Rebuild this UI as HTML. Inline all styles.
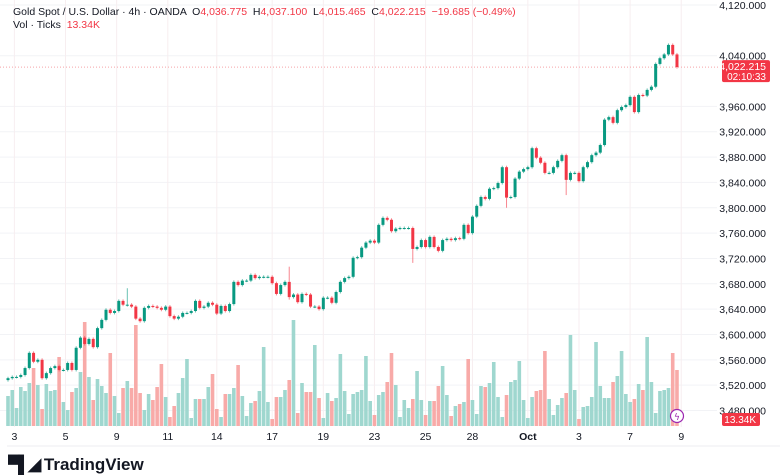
<!DOCTYPE html>
<html><head><meta charset="utf-8">
<style>
html,body{margin:0;padding:0;background:#fff;}
body{width:780px;height:470px;overflow:hidden;position:relative;font-family:"Liberation Sans",sans-serif;}
#hdr{position:absolute;left:13px;top:6px;font-size:10.5px;color:#131722;line-height:13px;white-space:nowrap;}
#hdr .r{color:#f23645;}
svg{position:absolute;left:0;top:0;}
#logo{position:absolute;left:8px;top:455px;font-size:17px;color:#131722;font-weight:bold;white-space:nowrap;}
</style></head>
<body>
<svg id="chart" width="780" height="470"></svg>
<div id="hdr">
<div>Gold Spot / U.S. Dollar · 4h · OANDA &nbsp;O<span class="r">4,036.775</span> &nbsp;H<span class="r">4,037.100</span> &nbsp;L<span class="r">4,015.465</span> &nbsp;C<span class="r">4,022.215</span> &nbsp;<span class="r">−19.685 (−0.49%)</span></div>
<div>Vol · Ticks &nbsp;<span class="r">13.34K</span></div>
</div>
<div id="logo"><span style="letter-spacing:-2px">▀▌◢</span> TradingView</div>
<script>
const closes = [3531,3533,3533,3536,3547,3571,3557,3560,3531,3539,3547,3550,3544,3544,3555,3544,3579,3595,3585,3593,3580,3610,3623,3639,3634,3637,3653,3647,3647,3644,3625,3621,3642,3645,3644,3642,3639,3644,3629,3625,3628,
3634,3634,3637,3653,3642,3644,3650,3647,3633,3645,3637,3648,3683,3678,3685,3685,3694,3689,3691,3691,3691,3681,3664,3678,3683,3659,3663,3651,3664,3663,3644,3644,3640,3658,3658,3650,3667,3683,3689,3691,
3721,3722,3737,3745,3748,3745,3773,3784,3781,3763,3767,3768,3768,3768,3735,3738,3749,3738,3754,3738,3732,3749,3751,3749,3752,3751,3773,3760,3786,3803,3817,3814,3830,3831,3839,3864,3816,3817,
3846,3857,3861,3864,3894,3879,3871,3855,3855,3864,3874,3883,3844,3855,3855,3842,3864,3872,3883,3887,3899,3939,3943,3934,3954,3959,3962,3975,3951,3978,3977,3986,3991,4027,4036,4042,4057,4042,4022];
const firstOpen = 3528;
const wickIdx = [28, 66, 95, 117, 131];
const wickHigh = [3673, 3707, 3740, 3820, 3855];
const wickLow = [3644, 3655, 3713, 3800, 3820];
const volumes = [30,36,18,39,35,43,58,41,17,42,35,36,69,24,16,34,38,54,104,49,26,47,40,33,73,30,13,38,45,38,101,33,16,32,26,39,62,29,9,20,33,48,67,8,27,27,27,39,52,17,9,32,32,38,61,30,10,23,25,35,79,24,7,29,29,36,46,106,13,43,34,34,81,28,8,33,25,28,72,35,12,32,34,36,70,
25,11,31,34,44,73,41,9,26,18,27,55,26,11,25,25,40,60,31,10,20,22,24,67,26,12,40,39,43,64,29,9,31,44,46,65,26,8,29,35,36,75,27,11,21,28,33,91,36,7,19,20,29,84,40,28,28,44,50,75,32,24,27,42,36,89,44,13,35,36,38,73,56];
const priceTicks = [4120,4080,4040,3960,3920,3880,3840,3800,3760,3720,3680,3640,3600,3560,3520,3480];
const dateLabels = ["3","5","9","11","14","17","19","23","25","28","Oct","3","7","9"];
const dateIdx = [1.5,13.5,25.5,37.5,49,62,74,86,98,109,122,134,146,158];

const svg = document.getElementById('chart');
const NS = 'http://www.w3.org/2000/svg';
const px = i => 8 + i * 4.261;
const py = p => 5 + (4120 - p) * 0.6336;
const vy = v => 426 - v;
function mk(tag, attrs){const e=document.createElementNS(NS,tag);for(const k in attrs)e.setAttribute(k,attrs[k]);svg.appendChild(e);return e;}
const fmt = p => p.toLocaleString('en-US',{minimumFractionDigits:3,maximumFractionDigits:3});

// grid
priceTicks.forEach(p=>{
  if(p===4080) return;
  const g=mk('line',{x1:0,x2:717,y1:py(p),y2:py(p),stroke:'#f2f3f6','stroke-width':1});
  
  
});
dateIdx.forEach(i=>{
  const g=mk('line',{x1:px(i),x2:px(i),y1:0,y2:427,stroke:'#f7eef0','stroke-width':1});
  
  
});
// axis labels
priceTicks.forEach(p=>{
  if(p===4080) return;
  const t=mk('text',{x:766,y:py(p)+4,'text-anchor':'end','font-size':'10.5',fill:'#131722','font-family':'Liberation Sans, sans-serif'});
  t.textContent=fmt(p);
  
  
});
dateLabels.forEach((d,k)=>{
  const t=mk('text',{x:px(dateIdx[k]),y:440,'text-anchor':'middle','font-size':'10.5',fill:'#131722','font-weight':d==='Oct'?'bold':'normal','font-family':'Liberation Sans, sans-serif'});
  t.textContent=d;
  
  
});
const sep=mk('line',{x1:7,x2:780,y1:446,y2:446,stroke:'#eceef2','stroke-width':1});



// volumes
let prev = firstOpen;
closes.forEach((c,i)=>{
  const up = c >= prev;
  const r=mk('rect',{x:px(i)-1.8,y:vy(volumes[i]),width:3.6,height:volumes[i],fill:up?'#9fd7cf':'#f8aaa8'});
  
  
  prev = c;
});
// price line
const pl=mk('line',{x1:0,x2:720,y1:py(closes[closes.length-1]),y2:py(closes[closes.length-1]),stroke:'#f5a3a6','stroke-width':1,'stroke-dasharray':'1 2'});


// candles
prev = firstOpen;
closes.forEach((c,i)=>{
  const o = prev, up = c >= o;
  const col = up ? '#089981' : '#f23645';
  let hi = Math.max(o,c), lo = Math.min(o,c);
  const w = wickIdx.indexOf(i);
  let yh = py(hi)-1.5, yl = py(lo)+1.5;
  if(w>=0){ yh = Math.min(yh, py(wickHigh[w])); yl = Math.max(yl, py(wickLow[w])); }
  const wl=mk('line',{x1:px(i),x2:px(i),y1:yh,y2:yl,stroke:col,'stroke-width':1,opacity:0.6});
  
  
  const b=mk('rect',{x:px(i)-1.5,y:py(hi),width:3,height:Math.max(1,py(lo)-py(hi)),fill:col});
  
  
  prev = c;
});
// last price tag
const last = closes[closes.length-1];
const tag=mk('rect',{x:722,y:py(last)-7,width:48,height:22,rx:2,fill:'#f23645'});


const t1=mk('text',{x:766,y:py(last)+3,'text-anchor':'end','font-size':'10.5',fill:'#fff','font-family':'Liberation Sans, sans-serif'});
t1.textContent='4,022.215';


const t2=mk('text',{x:766,y:py(last)+13,'text-anchor':'end','font-size':'10',fill:'#fff','font-family':'Liberation Sans, sans-serif'});
t2.textContent='02:10:33';


const vt=mk('rect',{x:722,y:413,width:38,height:13,rx:2,fill:'#f23645'});


const vtt=mk('text',{x:756,y:423,'text-anchor':'end','font-size':'10',fill:'#fff','font-family':'Liberation Sans, sans-serif'});
vtt.textContent='13.34K';


// lightning icon
const ic=mk('circle',{cx:677,cy:416,r:6.5,fill:'#fff',stroke:'#9c27b0','stroke-width':1.2});


const icg=mk('text',{x:677,y:420,'text-anchor':'middle','font-size':'9',fill:'#9c27b0','font-family':'DejaVu Sans, sans-serif'});
icg.textContent='ϟ';


</script>
</body></html>
